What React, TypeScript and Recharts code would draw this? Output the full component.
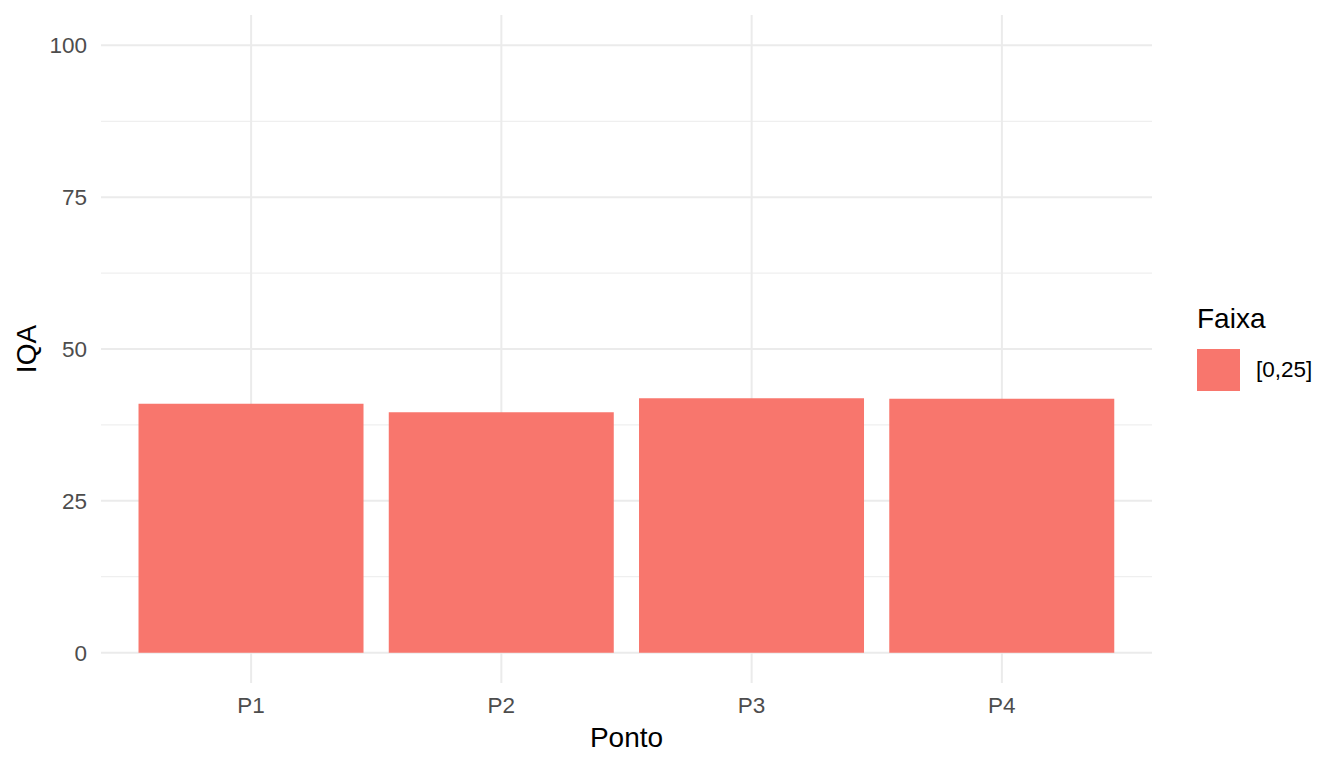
import { Bar, BarChart, CartesianGrid, XAxis, YAxis } from "recharts";

const PONTOS = ["P1", "P2", "P3", "P4"];
const IQA = [41.0, 39.6, 41.9, 41.8];
const Y_TICKS = [0, 25, 50, 75, 100];
const Y_MINOR = [12.5, 37.5, 62.5, 87.5];
const FAIXA_TITULO = "Faixa";
const FAIXA_NIVEIS = ["[0,25]"];

const FILL = "#F8766D";
const GRID = "#EBEBEB";
const TICK = "#4D4D4D";
const FONT = "Arial, 'Liberation Sans', sans-serif";

const data = PONTOS.map((p, i) => ({ ponto: p, iqa: IQA[i] }));

function TituloY({ viewBox }: any) {
  const x = viewBox.x + 36;
  const y = viewBox.y + viewBox.height / 2;
  return (
    <text
      x={x}
      y={y}
      transform={`rotate(-90, ${x}, ${y})`}
      textAnchor="middle"
      fontSize={28}
      fontFamily={FONT}
      fill="#000"
    >
      IQA
    </text>
  );
}

function TituloX({ viewBox }: any) {
  return (
    <text
      x={viewBox.x + viewBox.width / 2}
      y={viewBox.y + 64}
      textAnchor="middle"
      fontSize={28}
      fontFamily={FONT}
      fill="#000"
    >
      Ponto
    </text>
  );
}

export default function App() {
  return (
    <div
      style={{
        position: "absolute",
        left: 0,
        top: 0,
        width: 1344,
        height: 768,
        background: "#fff",
        fontFamily: FONT,
      }}
    >
      <BarChart
        width={1344}
        height={768}
        data={data}
        margin={{ top: 15, right: 192, bottom: 0, left: 0 }}
        barCategoryGap="5%"
      >
        <CartesianGrid
          horizontalValues={Y_MINOR}
          vertical={false}
          syncWithTicks
          stroke={GRID}
          strokeWidth={1}
        />
        <CartesianGrid syncWithTicks stroke={GRID} strokeWidth={2} />
        <XAxis
          dataKey="ponto"
          height={85}
          padding={{ left: 25, right: 25 }}
          axisLine={false}
          tickLine={false}
          tickMargin={8}
          tick={{ fill: TICK, fontSize: 22.5, fontFamily: FONT }}
          label={<TituloX />}
        />
        <YAxis
          type="number"
          domain={[-5, 105]}
          ticks={Y_TICKS}
          width={101}
          axisLine={false}
          tickLine={false}
          tickMargin={8}
          tick={{ fill: TICK, fontSize: 22.5, fontFamily: FONT }}
          label={<TituloY />}
        />
        <Bar dataKey="iqa" fill={FILL} isAnimationActive={false} />
      </BarChart>
      <div style={{ position: "absolute", left: 1197, top: 305 }}>
        <div style={{ fontSize: 28, lineHeight: "28px", color: "#000" }}>
          {FAIXA_TITULO}
        </div>
        {FAIXA_NIVEIS.map((n) => (
          <div
            key={n}
            style={{ display: "flex", alignItems: "center", marginTop: 16 }}
          >
            <div style={{ width: 43, height: 42, background: FILL }} />
            <span
              style={{
                marginLeft: 16,
                fontSize: 22.5,
                color: "#000",
                lineHeight: "24px",
              }}
            >
              {n}
            </span>
          </div>
        ))}
      </div>
    </div>
  );
}
